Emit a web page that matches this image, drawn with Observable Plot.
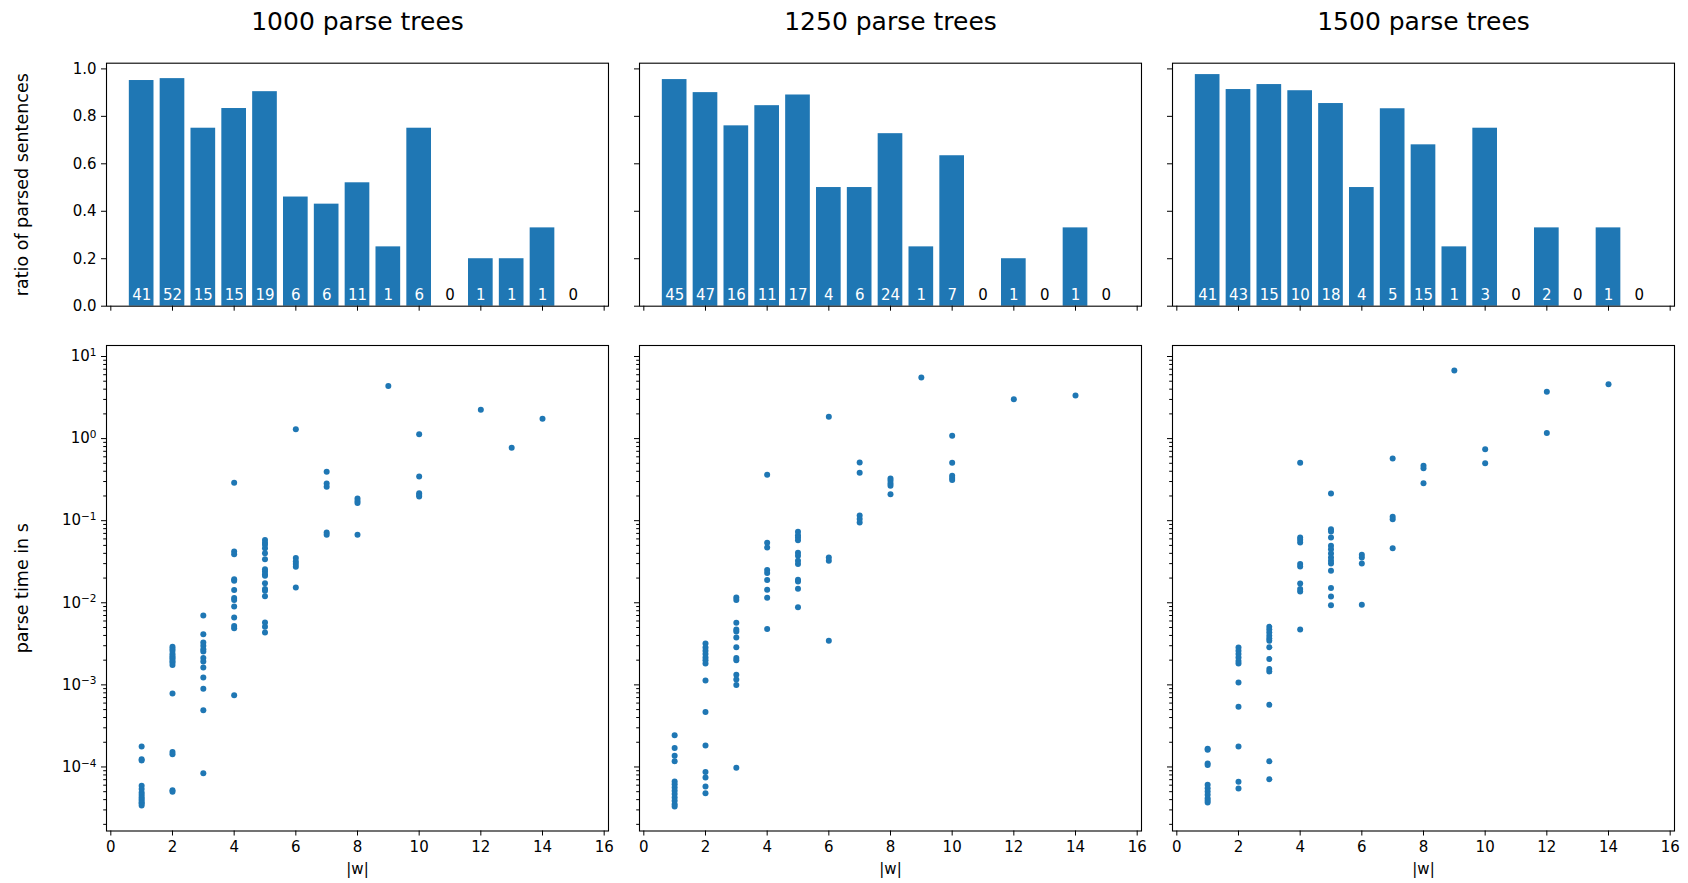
<!DOCTYPE html>
<html>
<head>
<meta charset="utf-8">
<script src="https://cdn.jsdelivr.net/npm/d3@7"></script>
<script src="https://cdn.jsdelivr.net/npm/@observablehq/plot@0.6"></script>
<style>
  body { margin: 0; background: #fff; }
  #fig { position: relative; width: 1688px; height: 883px; background: #fff; font-family: "DejaVu Sans"; overflow: hidden; }
  #fig > svg { position: absolute; }
</style>
</head>
<body>
<div id="fig"></div>
<script>
// ---- data ----
const panelTitles = ["1000 parse trees", "1250 parse trees", "1500 parse trees"];
const lengths = [1, 2, 3, 4, 5, 6, 7, 8, 9, 10, 11, 12, 13, 14, 15];

const ratio1000 = [0.951, 0.959, 0.75, 0.833, 0.904, 0.46, 0.43, 0.52, 0.25, 0.75, 0, 0.2, 0.2, 0.33, 0];
const count1000 = [41, 52, 15, 15, 19, 6, 6, 11, 1, 6, 0, 1, 1, 1, 0];
const ratio1250 = [0.955, 0.9, 0.76, 0.845, 0.89, 0.5, 0.5, 0.727, 0.25, 0.634, 0, 0.2, 0, 0.33, 0];
const count1250 = [45, 47, 16, 11, 17, 4, 6, 24, 1, 7, 0, 1, 0, 1, 0];
const ratio1500 = [0.976, 0.913, 0.934, 0.908, 0.854, 0.5, 0.832, 0.68, 0.25, 0.75, 0, 0.33, 0, 0.33, 0];
const count1500 = [41, 43, 15, 10, 18, 4, 5, 15, 1, 3, 0, 2, 0, 1, 0];

// parse times in seconds, one list per sentence length |w| = 1..14
const timeLengths = [1, 2, 3, 4, 5, 6, 7, 8, 9, 10, 11, 12, 13, 14];
const times1000 = [
  [1.78e-4, 1.24e-4, 1.2e-4, 5.9e-5, 5.4e-5, 4.9e-5, 4.6e-5, 4.3e-5, 4.1e-5, 3.9e-5, 3.7e-5, 3.6e-5, 3.4e-5],
  [2.91e-3, 2.75e-3, 2.6e-3, 2.4e-3, 2.26e-3, 2.15e-3, 2.06e-3, 1.95e-3, 1.87e-3, 1.75e-3, 7.85e-4, 1.52e-4, 1.43e-4, 5.2e-5, 5.0e-5],
  [7.0e-3, 4.15e-3, 3.28e-3, 2.99e-3, 2.72e-3, 2.55e-3, 2.12e-3, 1.93e-3, 1.63e-3, 1.23e-3, 9.0e-4, 4.92e-4, 8.4e-5],
  [0.29, 0.042, 0.039, 0.0194, 0.0185, 0.0143, 0.0114, 0.0108, 0.009, 0.0066, 0.0052, 0.0049, 7.5e-4],
  [0.058, 0.054, 0.0508, 0.0463, 0.0402, 0.034, 0.0257, 0.024, 0.0223, 0.0213, 0.0173, 0.0147, 0.014, 0.012, 0.00575, 0.0051, 0.00435],
  [1.30, 0.035, 0.0319, 0.0296, 0.0274, 0.0154],
  [0.394, 0.284, 0.259, 0.0718, 0.0673],
  [0.186, 0.174, 0.164, 0.0673],
  [4.36],
  [1.13, 0.345, 0.216, 0.206, 0.197],
  [],
  [2.24],
  [0.773],
  [1.74]
];
const times1250 = [
  [2.44e-4, 1.7e-4, 1.37e-4, 1.17e-4, 6.65e-5, 6.18e-5, 5.62e-5, 5.13e-5, 4.67e-5, 4.25e-5, 3.87e-5, 3.52e-5, 3.3e-5],
  [3.19e-3, 2.85e-3, 2.6e-3, 2.37e-3, 2.16e-3, 2.0e-3, 1.82e-3, 1.13e-3, 4.66e-4, 1.83e-4, 8.7e-5, 7.45e-5, 5.78e-5, 4.8e-5],
  [0.0116, 0.0108, 5.7e-3, 4.73e-3, 4.47e-3, 3.78e-3, 2.88e-3, 2.12e-3, 2.0e-3, 1.33e-3, 1.16e-3, 9.93e-4, 9.8e-5],
  [0.362, 0.0537, 0.0472, 0.025, 0.023, 0.0189, 0.0144, 0.0115, 4.8e-3],
  [0.0731, 0.0667, 0.0624, 0.0579, 0.0406, 0.0374, 0.0325, 0.0296, 0.0191, 0.0182, 0.0148, 8.85e-3],
  [1.84, 0.0356, 0.0325, 3.44e-3],
  [0.512, 0.383, 0.1156, 0.105, 0.095],
  [0.327, 0.306, 0.284, 0.266, 0.21],
  [5.55],
  [1.08, 0.507, 0.352, 0.33, 0.312],
  [],
  [3.02],
  [],
  [3.35]
];
const times1500 = [
  [1.67e-4, 1.62e-4, 1.1e-4, 1.06e-4, 6.07e-5, 5.52e-5, 5.03e-5, 4.58e-5, 4.17e-5, 3.9e-5, 3.7e-5],
  [2.86e-3, 2.6e-3, 2.37e-3, 2.16e-3, 1.96e-3, 1.82e-3, 1.07e-3, 5.4e-4, 1.78e-4, 6.6e-5, 5.47e-5],
  [5.09e-3, 4.73e-3, 4.35e-3, 3.96e-3, 3.67e-3, 3.44e-3, 2.88e-3, 2.06e-3, 1.56e-3, 1.46e-3, 5.71e-4, 1.17e-4, 7.1e-5],
  [0.507, 0.0624, 0.0585, 0.0542, 0.0296, 0.0277, 0.0172, 0.0147, 0.0137, 4.73e-3],
  [0.214, 0.0789, 0.0738, 0.0624, 0.0494, 0.045, 0.0398, 0.0356, 0.0325, 0.0301, 0.0245, 0.0151, 0.0119, 9.35e-3],
  [0.0384, 0.0356, 0.0301, 9.44e-3],
  [0.573, 0.1114, 0.1044, 0.0462],
  [0.466, 0.436, 0.286],
  [6.75],
  [0.743, 0.502],
  [],
  [3.72, 1.17],
  [],
  [4.6]
];

const xTicks = [0, 2, 4, 6, 8, 10, 12, 14, 16];
const ratioTicks = [0, 0.2, 0.4, 0.6, 0.8, 1.0];
const timeTicks = [1e-4, 1e-3, 1e-2, 1e-1, 1, 10];
const barLabel = "ratio of parsed sentences";
const timeLabel = "parse time in s";
const xLabel = "|w|";

// ---- layout ----
const blue = "#1f77b4";
const frameX = [106, 639, 1172];
const frameW = 502;
const barTop = 62.7, barH = 243, barMB = 20;
const scTop = 344.5, scH = 485.5, scMT = 10, scMB = 53;
const xDomain = [-0.14, 16.14];
const tickFont = 15;
const minorTicks = [];
for (let e = -5; e <= 1; e++) for (let k = 2; k <= 9; k++) {
  const v = k * Math.pow(10, e);
  if (v > Math.pow(10, -4.78) && v < Math.pow(10, 1.134)) minorTicks.push(v);
}
const baseStyle = {fontFamily: "DejaVu Sans", fontSize: tickFont + "px", background: "transparent", overflow: "visible", maxWidth: "none", color: "black"};

const panels = [
  {title: panelTitles[0], ratio: ratio1000, count: count1000, times: times1000},
  {title: panelTitles[1], ratio: ratio1250, count: count1250, times: times1250},
  {title: panelTitles[2], ratio: ratio1500, count: count1500, times: times1500}
];

const fig = document.getElementById("fig");

panels.forEach((p, i) => {
  const first = i === 0;
  const mL = first ? 106 : 20, mR = 10;
  const bars = lengths.map((len, j) => ({len, ratio: p.ratio[j], count: p.count[j]}));

  const barPlot = Plot.plot({
    width: mL + frameW + mR,
    height: barTop + barH + barMB,
    marginLeft: mL, marginRight: mR, marginTop: barTop, marginBottom: barMB,
    style: baseStyle,
    x: {domain: xDomain},
    y: {domain: [0, 1.024]},
    marks: [
      Plot.rectY(bars, {x1: d => d.len - 0.4, x2: d => d.len + 0.4, y: "ratio", fill: blue}),
      Plot.text(bars.filter(d => d.count > 0), {x: "len", y: 0, text: d => String(d.count), dy: -6.5, lineAnchor: "bottom", fill: "white", fontSize: tickFont}),
      Plot.text(bars.filter(d => d.count === 0), {x: "len", y: 0, text: d => String(d.count), dy: -6.5, lineAnchor: "bottom", fill: "black", fontSize: tickFont}),
      Plot.frame({stroke: "black", strokeWidth: 1.1}),
      Plot.axisY({ticks: ratioTicks, tickSize: 5, tickPadding: 5, tickFormat: first ? d3.format(".1f") : () => "", label: null}),
      Plot.axisX({ticks: xTicks, tickSize: 5, tickFormat: () => "", label: null}),
      Plot.text([p.title], {frameAnchor: "top", dy: -41.5, text: d => d, fontSize: 25, lineAnchor: "middle", textAnchor: "middle"}),
      ...(first ? [Plot.text([barLabel], {frameAnchor: "left", dx: -84.3, rotate: -90, text: d => d, fontSize: 17.5, lineAnchor: "middle", textAnchor: "middle"})] : [])
    ]
  });
  barPlot.style.left = (frameX[i] - mL) + "px";
  barPlot.style.top = "0px";
  fig.appendChild(barPlot);

  const pts = [];
  timeLengths.forEach((len, j) => p.times[j].forEach(t => pts.push({len, t})));

  const scPlot = Plot.plot({
    width: mL + frameW + mR,
    height: scMT + scH + scMB,
    marginLeft: mL, marginRight: mR, marginTop: scMT, marginBottom: scMB,
    style: baseStyle,
    x: {domain: xDomain},
    y: {type: "log", domain: [Math.pow(10, -4.78), Math.pow(10, 1.134)]},
    marks: [
      Plot.dot(pts, {x: "len", y: "t", r: 3, fill: blue, stroke: "none"}),
      Plot.frame({stroke: "black", strokeWidth: 1.1}),
      Plot.axisY({ticks: minorTicks, tickSize: 2.8, tickFormat: () => "", label: null}),
      Plot.axisY({ticks: timeTicks, tickSize: 5, tickPadding: 5, tickFormat: first ? (d => String(Math.round(Math.log10(d)))) : () => "", label: null}),
      Plot.axisX({ticks: xTicks, tickSize: 5, tickPadding: 5, tickFormat: d3.format("d"), label: null}),
      Plot.text([xLabel], {frameAnchor: "bottom", dy: 38, text: d => d, fontSize: tickFont, lineAnchor: "middle", textAnchor: "middle"}),
      ...(first ? [Plot.text([timeLabel], {frameAnchor: "left", dx: -84.3, rotate: -90, text: d => d, fontSize: 17.5, lineAnchor: "middle", textAnchor: "middle"})] : [])
    ]
  });
  scPlot.style.left = (frameX[i] - mL) + "px";
  scPlot.style.top = (scTop - scMT) + "px";
  fig.appendChild(scPlot);

  if (first) {
    d3.select(scPlot).selectAll('g[aria-label="y-axis tick label"] text').each(function() {
      const s = this.textContent;
      if (s === "") return;
      const exp = s.replace("-", "\u2212");
      this.textContent = "";
      const sel = d3.select(this);
      sel.append("tspan").text("10");
      sel.append("tspan").attr("dy", "-0.5em").attr("font-size", "0.7em").text(exp);
    });
  }
});
</script>
</body>
</html>
